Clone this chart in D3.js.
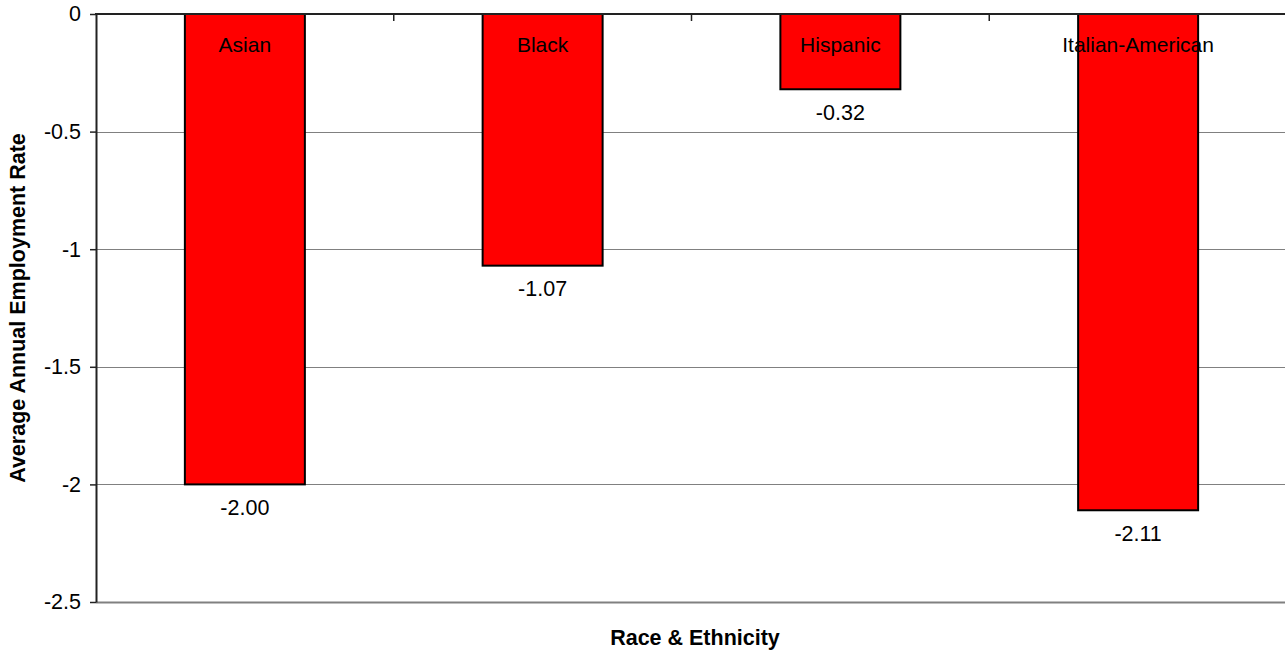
<!DOCTYPE html>
<html>
<head>
<meta charset="utf-8">
<script src="https://cdn.jsdelivr.net/npm/d3@7"></script>
<style>
  html, body { margin: 0; padding: 0; background: #ffffff; }
  svg { display: block; font-family: Arial, "Liberation Sans", sans-serif; }
</style>
</head>
<body>
<svg id="chart" width="1285" height="652"></svg>
<script>
// Average annual employment rate change by group
const categories = ["Asian", "Black", "Hispanic", "Italian-American"];
const values = [-2.00, -1.07, -0.32, -2.11];
const yTicks = [0, -0.5, -1, -1.5, -2, -2.5];
const yTickLabels = ["0", "-0.5", "-1", "-1.5", "-2", "-2.5"];

const svg = d3.select("#chart");
const plot = { left: 96, right: 1287, top: 14, bottom: 602 };

const x = d3.scaleBand()
  .domain(categories)
  .range([plot.left, plot.right])
  .paddingInner(0.597)
  .paddingOuter(0.2985);

const y = d3.scaleLinear()
  .domain([0, -2.5])
  .range([plot.top, plot.bottom]);

// plain hyphen-minus, two decimals
const fmtValue = v => v.toFixed(2);

// horizontal gridlines
svg.append("g")
  .selectAll("line")
  .data(yTicks.filter(t => t !== 0))
  .join("line")
  .attr("x1", plot.left)
  .attr("x2", plot.right)
  .attr("y1", d => Math.round(y(d)) + 0.5)
  .attr("y2", d => Math.round(y(d)) + 0.5)
  .attr("stroke", "#808080")
  .attr("stroke-width", d => d === -2.5 ? 2 : 1);

// bars
svg.append("g")
  .selectAll("rect")
  .data(categories)
  .join("rect")
  .attr("x", d => x(d))
  .attr("y", y(0))
  .attr("width", x.bandwidth())
  .attr("height", (d, i) => y(values[i]) - y(0))
  .attr("fill", "#ff0000")
  .attr("stroke", "#000000")
  .attr("stroke-width", 2);

// y axis
const yAxis = d3.axisLeft(y)
  .tickValues(yTicks)
  .tickFormat((d, i) => yTickLabels[i])
  .tickSize(6)
  .tickPadding(9)
  .tickSizeOuter(0);

const gy = svg.append("g")
  .attr("transform", `translate(${plot.left},0)`)
  .call(yAxis);
gy.select(".domain").attr("stroke", "#222").attr("stroke-width", 2);
gy.selectAll(".tick line").attr("stroke", "#222").attr("stroke-width", 1.5);
gy.selectAll(".tick text")
  .attr("fill", "#000")
  .style("font-size", "21.5px")
  .style("font-family", "Arial, 'Liberation Sans', sans-serif");

// category axis along the zero line, ticks between categories
const boundaries = categories.slice(1).map(c => x(c) - x.step() * x.paddingInner() / 2);
const gx = svg.append("g");
gx.append("line")
  .attr("x1", plot.left - 1)
  .attr("x2", plot.right)
  .attr("y1", y(0))
  .attr("y2", y(0))
  .attr("stroke", "#222")
  .attr("stroke-width", 2);
gx.selectAll("line.tick")
  .data(boundaries)
  .join("line")
  .attr("class", "tick")
  .attr("x1", d => d)
  .attr("x2", d => d)
  .attr("y1", y(0))
  .attr("y2", y(0) + 7)
  .attr("stroke", "#222")
  .attr("stroke-width", 1.5);

// category labels inside bar tops
svg.append("g")
  .selectAll("text")
  .data(categories)
  .join("text")
  .attr("x", d => x(d) + x.bandwidth() / 2)
  .attr("y", y(0) + 37.5)
  .attr("text-anchor", "middle")
  .style("font-size", "21px")
  .attr("fill", "#000")
  .text(d => d);

// value labels below each bar
svg.append("g")
  .selectAll("text")
  .data(values)
  .join("text")
  .attr("x", (d, i) => x(categories[i]) + x.bandwidth() / 2)
  .attr("y", d => y(d) + 30.5)
  .attr("text-anchor", "middle")
  .style("font-size", "21.5px")
  .attr("fill", "#000")
  .text(d => fmtValue(d));

// axis titles
svg.append("text")
  .attr("x", 695)
  .attr("y", 645)
  .attr("text-anchor", "middle")
  .style("font-size", "21.5px")
  .style("font-weight", "bold")
  .text("Race & Ethnicity");

svg.append("text")
  .attr("transform", `translate(25,${(plot.top + plot.bottom) / 2}) rotate(-90)`)
  .attr("text-anchor", "middle")
  .style("font-size", "21.5px")
  .style("font-weight", "bold")
  .text("Average Annual Employment Rate");
</script>
</body>
</html>
